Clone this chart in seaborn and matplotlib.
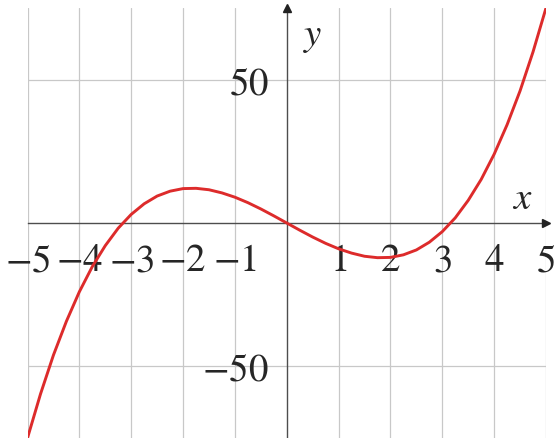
import numpy as np
import pandas as pd
import matplotlib
matplotlib.use("Agg")
import matplotlib.pyplot as plt
import seaborn as sns

# Curve values (x step 0.25)
x_vals = [-5.0, -4.75, -4.5, -4.25, -4.0, -3.75, -3.5, -3.25, -3.0, -2.75, -2.5,
          -2.25, -2.0, -1.75, -1.5, -1.25, -1.0, -0.75, -0.5, -0.25, 0.0,
          0.25, 0.5, 0.75, 1.0, 1.25, 1.5, 1.75, 2.0, 2.25, 2.5,
          2.75, 3.0, 3.25, 3.5, 3.75, 4.0, 4.25, 4.5, 4.75, 5.0]
y_vals = [-75.0, -59.7, -46.1, -34.3, -24.0, -15.2, -7.9, -1.8, 3.0, 6.7, 9.4,
          11.1, 12.0, 12.1, 11.6, 10.5, 9.0, 7.1, 4.9, 2.5, 0.0,
          -2.5, -4.9, -7.1, -9.0, -10.5, -11.6, -12.1, -12.0, -11.1, -9.4,
          -6.7, -3.0, 1.8, 7.9, 15.2, 24.0, 34.3, 46.1, 59.7, 75.0]
x_ticks = [-5, -4, -3, -2, -1, 1, 2, 3, 4, 5]
y_ticks = [-50, 50]

df = pd.DataFrame({'x': x_vals, 'y': y_vals})

sns.set_style("white")
plt.rcParams['font.family'] = ['STIXGeneral', 'DejaVu Serif']
plt.rcParams['mathtext.fontset'] = 'stix'

fig = plt.figure(figsize=(5.55, 4.39), dpi=100)
ax = fig.add_axes([27.5 / 555, 0, (546 - 27.5) / 555, 430 / 439])

axis_col = '#4d4d4d'

sns.lineplot(data=df, x='x', y='y', color='#dd2b2b', linewidth=2.1, ax=ax, zorder=3)

ax.set_xlim(-5, 5)
ax.set_ylim(-75, 75)
ax.set_xticks(x_ticks)
ax.set_yticks(y_ticks)
ax.set_xticklabels(['$-%d$' % -t if t < 0 else '$%d$' % t for t in x_ticks])
ax.set_yticklabels(['$-%d$' % -t if t < 0 else '$%d$' % t for t in y_ticks])
ax.grid(True, color='#c8c8c8', linewidth=0.9)
ax.set_axisbelow(True)

for s in ['top', 'right']:
    ax.spines[s].set_visible(False)
ax.spines['left'].set_position(('data', 0))
ax.spines['bottom'].set_position(('data', 0))
for s in ['left', 'bottom']:
    ax.spines[s].set_color(axis_col)
    ax.spines[s].set_linewidth(1.0)
    ax.spines[s].set_zorder(2)

ax.tick_params(axis='both', direction='inout', length=5.5, width=0.8,
               color=axis_col, labelsize=28)
ax.tick_params(axis='x', pad=12)
ax.tick_params(axis='y', pad=10)

# arrow heads at the axis ends
ax.plot(1, 0, marker='>', color='#222222', markersize=6,
        transform=ax.get_yaxis_transform(), clip_on=False, zorder=4)
ax.plot(0, 1, marker='^', color='#222222', markersize=6,
        transform=ax.get_xaxis_transform(), clip_on=False, zorder=4)

ax.set_xlabel('')
ax.set_ylabel('')
ax.text(4.55, 8.5, '$x$', fontsize=28, ha='center', va='center')
ax.text(0.5, 65, '$y$', fontsize=28, ha='center', va='center')

plt.savefig('out.png', dpi=100)
